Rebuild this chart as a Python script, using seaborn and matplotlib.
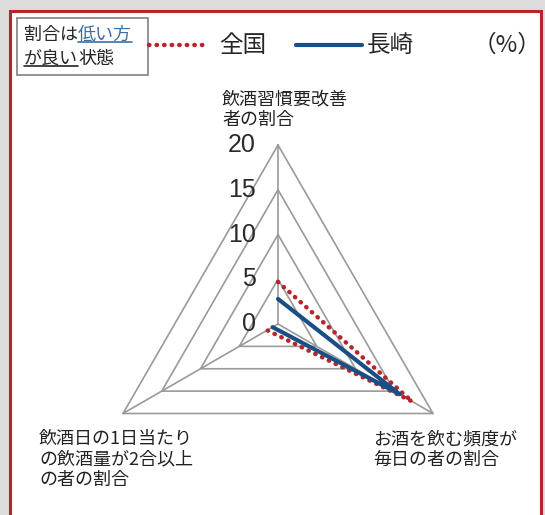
import numpy as np
import pandas as pd
import matplotlib
matplotlib.use("Agg")
import matplotlib.pyplot as plt
import matplotlib.transforms as mtransforms
from matplotlib.lines import Line2D
from matplotlib.patches import Rectangle
import seaborn as sns

# ---------------------------------------------------------------
# data (%)
# ---------------------------------------------------------------
categories = [
    "飲酒習慣要改善\n者の割合",
    "お酒を飲む頻度が\n毎日の者の割合",
    "飲酒日の1日当たり\nの飲酒量が2合以上\nの者の割合",
]
zenkoku = [4.7, 17.3, 1.4]
nagasaki = [2.8, 15.7, 0.7]
ring_values = [5, 10, 15, 20]
tick_values = [0, 5, 10, 15, 20]
tick_labels = ["0", "5", "10", "15", "20"]
series_names = ["全国", "長崎"]

W, H = 545, 515
RED = "#b8242a"
BLUE = "#1a4f86"
GRID = "#9a9a9a"
DOTS = (0, (0.1, 1.6))


def to_xy(values):
    # clockwise from the top
    ang = np.deg2rad(90 - 120 * np.arange(len(values)))
    v = np.asarray(values, dtype=float)
    x = np.append(v * np.cos(ang), v[0] * np.cos(ang[0]))
    y = np.append(v * np.sin(ang), v[0] * np.sin(ang[0]))
    return x, y


sns.set_style("white")
plt.rcParams["font.family"] = ["Noto Sans CJK JP", "DejaVu Sans"]

fig = plt.figure(figsize=(W / 100, H / 100), dpi=100)
fig.patch.set_facecolor("#dcdcdc")
px = mtransforms.Affine2D().scale(1 / W, -1 / H).translate(0, 1) + fig.transFigure

# red frame
fig.patches.append(Rectangle((10, 11), 531, 520, transform=px, facecolor="white",
                             edgecolor=RED, linewidth=2.2, zorder=-2))
# legend box
fig.patches.append(Rectangle((17, 18), 131, 57, transform=px, facecolor="white",
                             edgecolor="#8a8a8a", linewidth=1.3, zorder=-1))

ax = fig.add_axes([0, 0, 1, 1])
ax.set_zorder(1)
ax.set_facecolor("none")
scale = 179 / 20.0
cx, cy = 278, 324
ax.set_xlim(-cx / scale, (W - cx) / scale)
ax.set_ylim((cy - H) / scale, cy / scale)
ax.axis("off")

# triangle grid + spokes
for r in ring_values:
    gx, gy = to_xy([r] * len(categories))
    ax.plot(gx, gy, color=GRID, linewidth=1.2, zorder=1)
sx, sy = to_xy([max(ring_values)] * len(categories))
for i in range(len(categories)):
    ax.plot([0, sx[i]], [0, sy[i]], color=GRID, linewidth=1.2, zorder=1)

# series
zx, zy = to_xy(zenkoku)
nx, ny = to_xy(nagasaki)
sns.lineplot(x=zx, y=zy, sort=False, ax=ax, color=RED, linewidth=3.2,
             linestyle=DOTS, dash_capstyle="round", zorder=3)
sns.lineplot(x=nx, y=ny, sort=False, ax=ax, color=BLUE, linewidth=3.0, zorder=4)

# ring labels
for v, lab in zip(tick_values, tick_labels):
    ax.annotate(lab, xy=(0, v), xytext=(-22, 0), textcoords="offset pixels",
                ha="right", va="center", fontsize=18, color="#2a2a2a",
                family=["Liberation Sans", "DejaVu Sans"])

# category labels
offsets = [(-56, 16, "bottom"), (-60, -17, "top"), (-84, -16, "top")]
for i, lab in enumerate(categories):
    dx, dy, va = offsets[i]
    ax.annotate(lab, xy=(sx[i], sy[i]), xytext=(dx, dy), textcoords="offset pixels",
                ha="left", va=va, fontsize=13, linespacing=1.2, color="#222222")

# legend texts
t1 = ax.text(24, 35, "割合は", transform=px, fontsize=13, va="center", ha="left")
t2 = ax.annotate("低い方", xy=(1, 0), xycoords=t1, va="bottom", ha="left",
                 fontsize=13, color="#3b6fa8")
t3 = ax.text(24, 59, "が良い", transform=px, fontsize=13, va="center", ha="left")
t4 = ax.annotate("状態", xy=(1, 0), xycoords=t3, va="bottom", ha="left",
                 fontsize=13, color="#222222")

ax.add_line(Line2D([149, 209], [45, 45], transform=px, color=RED, linewidth=3.2,
                   linestyle=DOTS, dash_capstyle="round"))
ax.text(219, 45, series_names[0], transform=px, fontsize=17, va="center", ha="left")
ax.add_line(Line2D([296, 362], [45, 45], transform=px, color=BLUE, linewidth=3.0))
ax.text(367, 45, series_names[1], transform=px, fontsize=17, va="center", ha="left")
ax.text(541, 45, "（%）", transform=px, fontsize=17, va="center", ha="right")

# underlines
fig.canvas.draw()
for t, col in [(t2, "#3b6fa8"), (t3, "#222222")]:
    bb = t.get_window_extent()
    ln = Line2D([bb.x0, bb.x1], [bb.y0 + 2, bb.y0 + 2],
                transform=mtransforms.IdentityTransform(), color=col, linewidth=1.2)
    ax.add_line(ln)

fig.savefig("out.png", dpi=100)
